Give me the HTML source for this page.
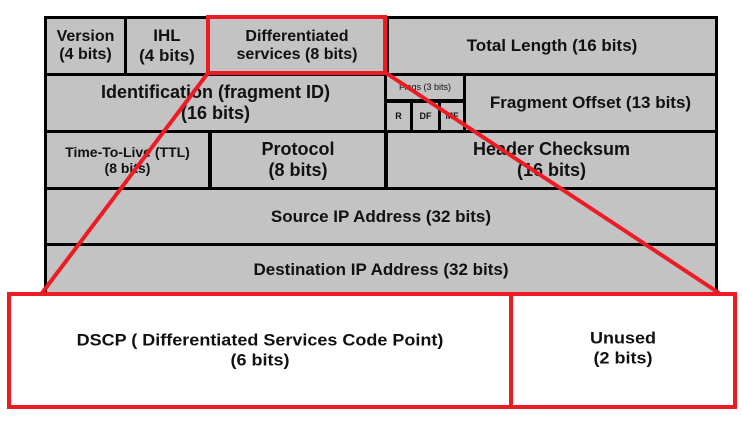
<!DOCTYPE html>
<html><head><meta charset="utf-8"><style>
body{margin:0;width:742px;height:430px;background:#fff;position:relative;overflow:hidden;font-family:"Liberation Sans",Arial,sans-serif;font-weight:bold;color:#111}
.c{position:absolute;background:#c3c3c3;display:flex;align-items:center;justify-content:center;text-align:center;line-height:1.15;font-size:17px}
.s{font-size:14px}
.xs{font-size:9px}
</style></head><body>
<div style="position:absolute;left:44px;top:16px;width:674px;height:290px;background:#000"></div>
<div class="c" style="left:47px;top:19px;width:77px;height:54px;font-size:16px">Version<br>(4 bits)</div>
<div class="c" style="left:127px;top:19px;width:80px;height:54px">IHL<br>(4 bits)</div>
<div class="c s" style="left:210px;top:19px;width:174px;height:54px;font-size:16px">Differentiated<br>services (8 bits)</div>
<div class="c" style="left:389px;top:19px;width:326px;height:54px">Total Length (16 bits)</div>
<div class="c" style="left:47px;top:76px;width:337px;height:54px;font-size:18px">Identification (fragment ID)<br>(16 bits)</div>
<div class="c xs" style="left:387px;top:76px;width:76px;height:23px;font-weight:normal">Flags (3 bits)</div>
<div class="c xs" style="left:387px;top:103px;width:23px;height:27px">R</div>
<div class="c xs" style="left:413px;top:103px;width:25px;height:27px">DF</div>
<div class="c xs" style="left:441px;top:103px;width:22px;height:27px">MF</div>
<div class="c" style="left:466px;top:76px;width:249px;height:54px">Fragment Offset (13 bits)</div>
<div class="c s" style="left:47px;top:133px;width:161px;height:54px">Time-To-Live (TTL)<br>(8 bits)</div>
<div class="c" style="left:212px;top:133px;width:172px;height:54px;font-size:18px">Protocol<br>(8 bits)</div>
<div class="c" style="left:388px;top:133px;width:327px;height:54px;font-size:18px">Header Checksum<br>(16 bits)</div>
<div class="c" style="left:47px;top:190px;width:668px;height:53px">Source IP Address (32 bits)</div>
<div class="c" style="left:47px;top:246px;width:668px;height:60px;align-items:flex-start;padding-top:14px;box-sizing:border-box">Destination IP Address (32 bits)</div>
<svg width="742" height="430" style="position:absolute;left:0;top:0">
<rect x="208" y="17" width="177" height="56" fill="none" stroke="#ed1c24" stroke-width="4"/>
<line x1="208" y1="73" x2="42" y2="293" stroke="#ed1c24" stroke-width="4"/>
<line x1="386" y1="73" x2="719" y2="293" stroke="#ed1c24" stroke-width="4"/>
<rect x="9" y="294" width="726" height="113" fill="#fff" stroke="#ed1c24" stroke-width="4"/>
<line x1="511" y1="294" x2="511" y2="407" stroke="#ed1c24" stroke-width="4"/>
</svg>
<div style="position:absolute;left:11px;top:296px;width:498px;height:109px;display:flex;align-items:center;justify-content:center;text-align:center;font-size:18px;line-height:1.2;transform:scaleY(0.92)">DSCP ( Differentiated Services Code Point)<br>(6 bits)</div>
<div style="position:absolute;left:513px;top:296px;width:220px;height:105px;display:flex;align-items:center;justify-content:center;text-align:center;font-size:18px;line-height:1.2;transform:scaleY(0.92)">Unused<br>(2 bits)</div>
</body></html>
